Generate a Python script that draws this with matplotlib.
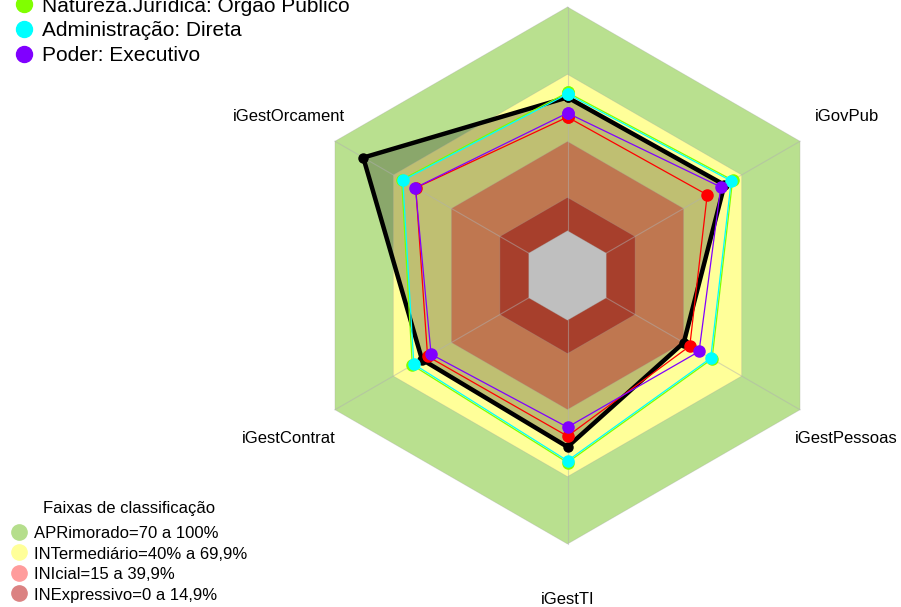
import numpy as np
import matplotlib
matplotlib.use("Agg")
import matplotlib.pyplot as plt

plt.rcParams['font.family'] = ['Liberation Sans', 'DejaVu Sans']

# axes, counter-clockwise from the top (top label falls outside the picture)
categories = ["iGG", "iGestOrcament", "iGestContrat", "iGestTI", "iGestPessoas", "iGovPub"]

# series values in %
serie_orgao = [59.6, 85.4, 55.1, 56.6, 40.0, 61.0]
serie_red = [50.8, 58.3, 52.2, 51.8, 43.1, 52.1]
serie_natureza = [61.8, 65.6, 60.1, 63.6, 54.6, 65.2]
serie_admin = [61.1, 65.0, 59.3, 62.8, 53.9, 64.5]
serie_poder = [52.6, 58.5, 50.4, 47.8, 47.9, 59.1]

legend_labels = ["Natureza.Jurídica: Órgão Público", "Administração: Direta", "Poder: Executivo"]

# classification bands (upper limits, %)
band_limits = [100, 69.9, 39.9, 14.9]
band_labels = ["APRimorado=70 a 100%", "INTermediário=40% a 69,9%",
               "INIcial=15 a 39,9%", "INExpressivo=0 a 14,9%"]
band_title = "Faixas de classificação"

# layout (pixels)
W, H = 901, 607
CX, CY, R = 567.5, 275.5, 268.5
SEG = 5
GAP = 1.0 / (SEG + 1)
TXT_DY = 2.0  # small downward nudge so text centres match

theta = np.pi / 2 + np.arange(len(categories)) * 2 * np.pi / len(categories)


def to_xy(values):
    r = GAP + (1 - GAP) * np.asarray(values, dtype=float) / 100.0
    x = CX + R * r * np.cos(theta)
    y = CY - R * r * np.sin(theta)
    return np.append(x, x[0]), np.append(y, y[0])


fig = plt.figure(figsize=(W / 100, H / 100), dpi=100)
ax = fig.add_axes([0, 0, 1, 1])
ax.set_xlim(0, W)
ax.set_ylim(H, 0)
ax.axis('off')

# bands (colours as seen outside the filled series)
band_colors = ['#B9E08F', '#FFFF99', '#FFA06B', '#E0553B']
for lim, col in zip(band_limits, band_colors):
    bx, by = to_xy([lim] * len(categories))
    ax.fill(bx, by, color=col, lw=0, zorder=1)
bx, by = to_xy([0] * len(categories))
ax.fill(bx, by, color='white', lw=0, zorder=1)

# main series fill
ox, oy = to_xy(serie_orgao)
ax.fill(ox, oy, color='black', alpha=0.25, lw=0, zorder=2)

# grid
for lim in band_limits + [0]:
    bx, by = to_xy([lim] * len(categories))
    ax.plot(bx, by, color='#a0a0a0', lw=0.6, alpha=0.3, zorder=3)
for t in theta:
    ax.plot([CX + R * GAP * np.cos(t), CX + R * np.cos(t)],
            [CY - R * GAP * np.sin(t), CY - R * np.sin(t)],
            color='#b0b0b0', lw=0.8, alpha=0.5, zorder=3)

# series
ax.plot(ox, oy, color='black', lw=3.2, marker='o', ms=6.5, zorder=4)
for vals, col in [(serie_red, '#FF0000'), (serie_natureza, '#80FF00'),
                  (serie_admin, '#00FFFF'), (serie_poder, '#8000FF')]:
    sx, sy = to_xy(vals)
    ax.plot(sx, sy, color=col, lw=0.9, marker='o', ms=8, zorder=5)

# axis labels
for i, name in enumerate(categories):
    lx = CX + 1.2 * R * np.cos(theta[i])
    ly = CY - 1.2 * R * np.sin(theta[i])
    if ly < 0:
        continue
    ax.text(lx, ly + TXT_DY, name, ha='center', va='center', fontsize=12, zorder=6)

# series legend (top, partially cut like the original)
for i, (lab, col) in enumerate(zip(legend_labels, ['#80FF00', '#00FFFF', '#8000FF'])):
    y = 3.5 + 25 * i
    ax.plot(23.5, y, marker='o', ms=11.5, color=col, lw=0, clip_on=False, zorder=6)
    ax.text(42, y + TXT_DY, lab, ha='left', va='center', fontsize=15, zorder=6)

# bands legend
ax.text(129, 507 + TXT_DY, band_title, ha='center', va='center', fontsize=12, zorder=6)
leg_colors = ['#B5DE8C', '#FFFF99', '#FF9C9C', '#DB8282']
for i, (lab, col) in enumerate(zip(band_labels, leg_colors)):
    y = 531.5 + 20.6 * i
    ax.plot(18.5, y, marker='o', ms=11, color=col, lw=0, zorder=6)
    ax.text(34, y + TXT_DY, lab, ha='left', va='center', fontsize=12, zorder=6)

fig.savefig('out.png', dpi=100)
